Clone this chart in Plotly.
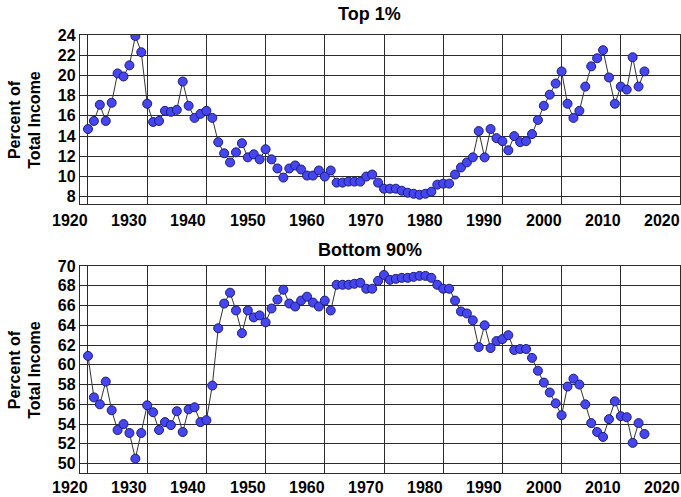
import plotly.graph_objects as go

years = list(range(1920, 2015))

top1 = [14.7, 15.5, 17.1, 15.5, 17.3, 20.2, 19.9, 21.0, 23.9, 22.3,
        17.2, 15.4, 15.5, 16.5, 16.4, 16.6, 19.4, 17.0, 15.8, 16.2,
        16.5, 15.8, 13.4, 12.3, 11.4, 12.4, 13.3, 11.9, 12.2, 11.7,
        12.7, 11.7, 10.8, 9.9, 10.8, 11.1, 10.7, 10.1, 10.1, 10.6,
        10.0, 10.6, 9.4, 9.4, 9.5, 9.5, 9.5, 10.0, 10.2, 9.4,
        8.8, 8.8, 8.8, 8.6, 8.4, 8.3, 8.2, 8.3, 8.5, 9.2,
        9.3, 9.3, 10.2, 10.9, 11.4, 11.9, 14.5, 11.9, 14.7, 13.8,
        13.5, 12.6, 14.0, 13.4, 13.5, 14.2, 15.6, 17.0, 18.1, 19.2,
        20.4, 17.2, 15.8, 16.5, 18.9, 20.9, 21.7, 22.5, 19.8, 17.2,
        18.9, 18.6, 21.8, 18.9, 20.4]

bottom90 = [60.9, 56.7, 56.0, 58.3, 55.4, 53.4, 54.0, 53.1, 50.5, 53.1,
            55.9, 55.2, 53.4, 54.2, 53.9, 55.3, 53.2, 55.5, 55.7, 54.2,
            54.4, 57.9, 63.7, 66.2, 67.3, 65.5, 63.2, 65.5, 64.8, 65.0,
            64.3, 65.7, 66.6, 67.6, 66.2, 65.9, 66.5, 66.9, 66.3, 65.9,
            66.5, 65.5, 68.1, 68.1, 68.1, 68.2, 68.3, 67.7, 67.7, 68.5,
            69.1, 68.6, 68.7, 68.8, 68.8, 68.9, 69.0, 69.0, 68.8, 68.1,
            67.7, 67.7, 66.5, 65.4, 65.2, 64.5, 61.8, 64.0, 61.7, 62.4,
            62.6, 63.0, 61.5, 61.6, 61.6, 60.7, 59.4, 58.2, 57.2, 56.1,
            54.9, 57.8, 58.6, 58.0, 56.0, 54.1, 53.2, 52.7, 54.5, 56.3,
            54.8, 54.7, 52.1, 54.1, 53.0]

titles = ["Top 1%", "Bottom 90%"]
y_title = "Percent of<br>Total Income"
x_ticks = list(range(1920, 2021, 10))
top_ticks = list(range(8, 25, 2))
bottom_ticks = list(range(50, 71, 2))

FONT = "Arial, Liberation Sans, sans-serif"
GRID = "#2b2b2b"
FILL = "#4646f0"
EDGE = "#1c1c7a"

fig = go.Figure()
for vals, xa, ya in [(top1, "x", "y"), (bottom90, "x2", "y2")]:
    fig.add_trace(go.Scatter(
        x=years, y=vals, xaxis=xa, yaxis=ya, mode="lines+markers",
        line=dict(color="#333333", width=1),
        marker=dict(size=9, color=FILL, line=dict(color=EDGE, width=1)),
        showlegend=False))

tickfont = dict(family=FONT, size=16, color="black", weight="bold")
xcommon = dict(range=[1918.65, 2020.0], tickvals=x_ticks, showgrid=True,
               gridcolor=GRID, gridwidth=1.3, showline=True, linecolor=GRID,
               linewidth=1.3, mirror=True, zeroline=False,
               showticklabels=False, ticks="", automargin=False)
ycommon = dict(showgrid=True, gridcolor=GRID, gridwidth=1.3, showline=True,
               linecolor=GRID, linewidth=1.3, mirror=True, zeroline=False,
               tickfont=tickfont, ticks="", ticklabelstandoff=0,
               automargin=False)

fig.update_layout(
    width=681, height=497,
    margin=dict(l=80, r=1, t=35, b=24),
    paper_bgcolor="white", plot_bgcolor="white",
    xaxis=dict(anchor="y", **xcommon),
    yaxis=dict(anchor="x", domain=[0.614, 1.0], range=[7.28, 24],
               tickvals=top_ticks, **ycommon),
    xaxis2=dict(anchor="y2", **xcommon),
    yaxis2=dict(anchor="x2", domain=[0.0, 0.4726], range=[49.05, 70],
                tickvals=bottom_ticks, **ycommon),
)

# year labels sit a little left of their gridlines, as in the source chart
for xref, ylab in [("x", 0.5776), ("x2", -0.034)]:
    for yr in x_ticks:
        fig.add_annotation(text=str(yr), xref=xref, yref="paper", x=yr, y=ylab,
                           xshift=-18, showarrow=False, xanchor="center",
                           yanchor="middle", font=tickfont)

# panel titles and y-axis titles
for title, ty, ymid in [(titles[0], 1.048, 0.807), (titles[1], 0.509, 0.236)]:
    fig.add_annotation(text=title, xref="paper", yref="paper", x=0.483, y=ty,
                       showarrow=False, xanchor="center", yanchor="middle",
                       font=dict(family=FONT, size=18, color="black", weight="bold"))
    fig.add_annotation(text=y_title, xref="paper", yref="paper", x=-0.093, y=ymid,
                       showarrow=False, textangle=-90, xanchor="center",
                       yanchor="middle",
                       font=dict(family=FONT, size=16, color="black", weight="bold"))

# drop the default 8px page margin so the figure fills the window exactly
fig.write_html("out.html", config={"displayModeBar": False},
               post_script="document.body.style.margin = '0';")
